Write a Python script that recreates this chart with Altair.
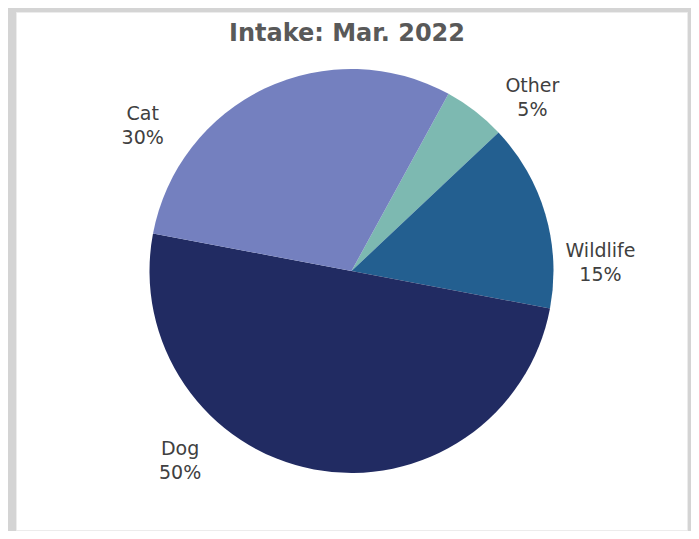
import math
import altair as alt
import pandas as pd

title_text = "Intake: Mar. 2022"
categories = ["Other", "Wildlife", "Dog", "Cat"]
values = [5, 15, 50, 30]
colors = ["#7DB9B1", "#235F90", "#212B62", "#7480BF"]

df = pd.DataFrame({
    "category": categories,
    "value": values,
    "idx": list(range(len(categories))),
})
df["label"] = [f"{c}\n{v}%" for c, v in zip(categories, values)]

start = math.radians(28.7)
theta_scale = alt.Scale(domain=[0, 100], range=[start, start + 2 * math.pi])
color = alt.Color("category:N", scale=alt.Scale(domain=categories, range=colors), legend=None)

base = alt.Chart(df)

pie = base.mark_arc(outerRadius=202).encode(
    theta=alt.Theta("value:Q", stack=True, scale=theta_scale),
    color=color,
    order=alt.Order("idx:Q"),
)

# label nudges (Excel "best fit" placement) relative to the slice mid-angle
nudges = {
    "Other": (28, 13),
    "Wildlife": (9, 50),
    "Dog": (-125, -68),
    "Cat": (-102, 69),
}

label_layers = []
for c in categories:
    ddx, ddy = nudges[c]
    lyr = (
        base.transform_window(cum="sum(value)", sort=[alt.SortField("idx")])
        .transform_calculate(mid="datum.cum - datum.value / 2")
        .transform_filter(alt.datum.category == c)
        .mark_text(
            radius=250, dx=ddx, dy=ddy, fontSize=19, font="DejaVu Sans",
            color="#404040", lineBreak="\n", lineHeight=24,
            align="center", baseline="middle",
        )
        .encode(
            theta=alt.Theta("mid:Q", stack=None, scale=theta_scale),
            text="label:N",
        )
    )
    label_layers.append(lyr)

title = alt.Chart(pd.DataFrame({"t": [title_text]})).mark_text(
    font="DejaVu Sans", fontSize=24, fontWeight="bold", color="#595959",
    align="center", baseline="alphabetic",
).encode(text="t:N", x=alt.value(331), y=alt.value(29))

chart = alt.layer(pie, *label_layers, title).properties(
    width=683,
    height=523,
    autosize=alt.AutoSizeParams(type="fit", contains="padding"),
    padding={"left": 8, "top": 4, "right": 4, "bottom": 1},
    background="#d4d4d4",
).configure_view(fill="white", stroke="#ececec", strokeWidth=1)

chart.save("out.html", embed_options={"renderer": "svg", "actions": False})
